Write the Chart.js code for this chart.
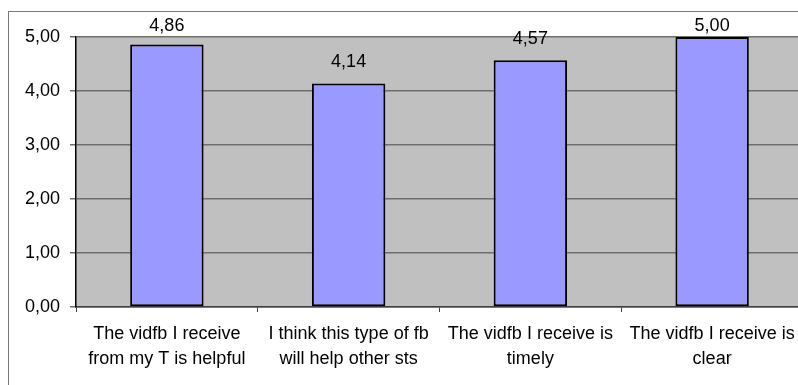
<!DOCTYPE html>
<html>
<head>
<meta charset="utf-8">
<script src="https://cdn.jsdelivr.net/npm/chart.js@4"></script>
<style>
  html, body { margin: 0; padding: 0; background: #fff; overflow: hidden; }
  #wrap { position: relative; width: 798px; height: 385px; overflow: hidden; }
  #frame { position: absolute; left: 8px; top: 11px; width: 900px; height: 500px;
           border-left: 1px solid #7a7a7a; border-top: 1px solid #7a7a7a; }
  #c { position: absolute; left: 0; top: 0; }
</style>
</head>
<body>
<div id="wrap">
  <div id="frame"></div>
  <canvas id="c" width="810" height="385"></canvas>
</div>
<script>
const labels = [
    ["The vidfb I receive", "from my T is helpful"],
    ["I think this type of fb", "will help other sts"],
    ["The vidfb I receive is", "timely"],
    ["The vidfb I receive is", "clear"],
];
const scores = [4.86, 4.14, 4.57, 5.00];
const yTicks = [0, 1, 2, 3, 4, 5];

const FONT = "'Liberation Sans', Arial, sans-serif";
const comma = (v) => v.toFixed(2).replace(".", ",");

// grey plot background
const plotBg = {
    id: "plotBg",
    beforeDraw(chart) {
        const { ctx, chartArea: a } = chart;
        ctx.save();
        ctx.fillStyle = "#c0c0c0";
        ctx.fillRect(a.left, a.top, a.right - a.left, a.bottom - a.top);
        ctx.restore();
    },
};

// value over each bar, kept below the top of the canvas
const barValues = {
    id: "barValues",
    afterDatasetsDraw(chart) {
        const ctx = chart.ctx;
        const meta = chart.getDatasetMeta(0);
        ctx.save();
        ctx.font = "18px " + FONT;
        ctx.fillStyle = "#000";
        ctx.textAlign = "center";
        ctx.textBaseline = "middle";
        meta.data.forEach((bar, i) => {
            const y = Math.max(bar.y - 21, 26);
            ctx.fillText(comma(scores[i]), bar.x, y);
        });
        ctx.restore();
    },
};

const config = {
    type: "bar",
    data: {
        labels: labels,
        datasets: [
            {
                data: scores,
                backgroundColor: "#9999ff",
                borderColor: "#000",
                borderWidth: 2,
                borderSkipped: false,
                categoryPercentage: 1,
                barPercentage: 0.404,
            },
        ],
    },
    options: {
        responsive: false,
        animation: false,
        layout: { padding: { left: 0, right: 7, top: 37, bottom: 0 } },
        plugins: {
            legend: { display: false },
            tooltip: { enabled: false },
        },
        scales: {
            x: {
                grid: {
                    display: true,
                    drawOnChartArea: false,
                    drawTicks: true,
                    tickLength: 5,
                    color: "#404040",
                },
                border: { color: "#404040", width: 1.5 },
                ticks: {
                    color: "#000",
                    padding: 10,
                    maxRotation: 0,
                    autoSkip: false,
                    font: { family: FONT, size: 18, lineHeight: 25 / 18 },
                },
                afterFit(scale) { scale.height = 78; },
            },
            y: {
                min: 0,
                max: 5,
                afterBuildTicks(scale) {
                    scale.ticks = yTicks.map((v) => ({ value: v }));
                },
                grid: {
                    color: "#6e6e6e",
                    lineWidth: 1.5,
                    drawTicks: true,
                    tickLength: 6,
                },
                border: { color: "#000", width: 1.5 },
                ticks: {
                    color: "#000",
                    padding: 10,
                    callback: (v) => comma(v),
                    font: { family: FONT, size: 18 },
                },
                afterFit(scale) { scale.width = 76; },
            },
        },
    },
    plugins: [plotBg, barValues],
};

new Chart(document.getElementById("c"), config);
</script>
</body>
</html>
